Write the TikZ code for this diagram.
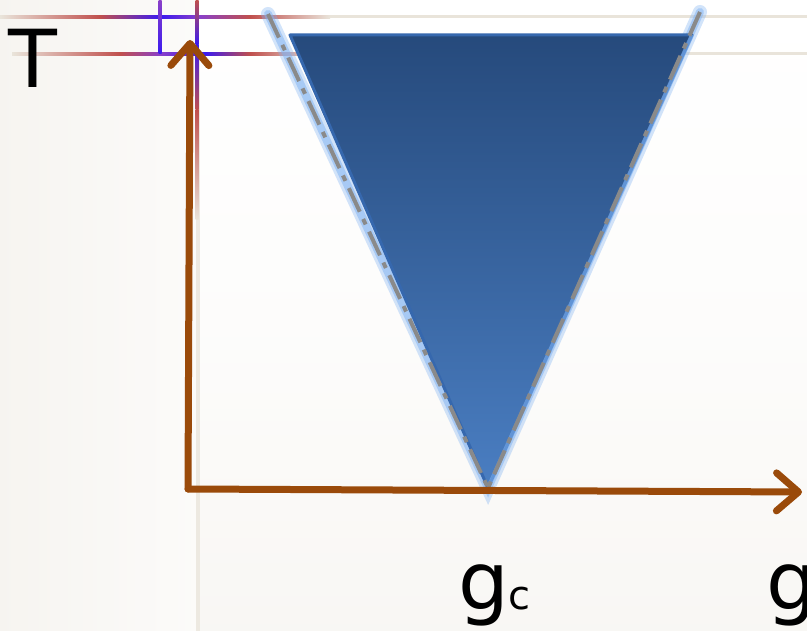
\documentclass[tikz,border=0pt]{standalone}
\usepackage{fontspec}
\setmainfont{DejaVu Sans}
\usetikzlibrary{arrows.meta}
\definecolor{axisbrown}{HTML}{9A4A0A}
\definecolor{beigeln}{HTML}{E9E4DA}
\definecolor{redln}{HTML}{C0504D}
\definecolor{blueln}{HTML}{3A1AF0}
\definecolor{purpln}{HTML}{8A40C8}
\definecolor{tritop}{HTML}{264A7C}
\definecolor{tribot}{HTML}{4A7EC2}
\definecolor{triedge}{HTML}{3668AE}
\definecolor{glow}{HTML}{7FB2F2}
\definecolor{dashgray}{HTML}{8A8A8A}
\tikzset{
  axis/.style={draw=axisbrown, line width=7pt, line cap=round, line join=round,
    -{Straight Barb[length=22pt,width=38pt,round]}},
  deco/.style={draw=none},
  glowline/.style={draw=glow, line width=14pt, opacity=0.35, line cap=round},
  glowline2/.style={draw=glow, line width=8pt, opacity=0.5, line cap=round},
  dashline/.style={draw=dashgray, line width=4pt, dash pattern=on 26pt off 8pt on 6pt off 8pt},
  lbl/.style={inner sep=0pt, font=\fontsize{80}{80}\selectfont, text=black}
}
\begin{document}
\begin{tikzpicture}[x=1pt,y=-1pt]
\useasboundingbox (0,0) rectangle (807,631);
% backgrounds
\shade[top color=white, bottom color=white!70!beigeln, middle color=white!90!beigeln] (200,0) rectangle (807,631);
\shade[left color=white!60!beigeln, right color=white!85!beigeln] (0,0) rectangle (198,631);
\fill[beigeln!80!white] (196,60) rectangle (200,631);
% decorative horizontal line at y=17
\fill[beigeln] (0,15.5) rectangle (807,18.5);
\shade[left color=beigeln, right color=redln] (0,15.5) rectangle (100,18.5);
\shade[left color=redln, right color=blueln] (100,15.5) rectangle (160,18.5);
\shade[left color=blueln, right color=purpln] (160,15.5) rectangle (200,18.5);
\shade[left color=purpln, right color=redln] (200,15.5) rectangle (250,18.5);
\shade[left color=redln, right color=beigeln] (250,15.5) rectangle (330,18.5);
% decorative horizontal line at y=54
\fill[beigeln] (12,52.5) rectangle (807,55.5);
\shade[left color=beigeln, right color=redln] (12,52.5) rectangle (120,55.5);
\shade[left color=redln, right color=purpln] (120,52.5) rectangle (160,55.5);
\shade[left color=purpln, right color=blueln] (160,52.5) rectangle (205,55.5);
\shade[left color=blueln, right color=redln] (205,52.5) rectangle (250,55.5);
\shade[left color=redln, right color=beigeln] (250,52.5) rectangle (320,55.5);
% vertical decorative lines
\shade[top color=purpln, bottom color=blueln] (158.5,0) rectangle (161.5,54);
\shade[top color=redln, bottom color=blueln] (195.5,0) rectangle (198.5,45);
\shade[top color=blueln, bottom color=redln] (195.5,45) rectangle (198.5,110);
\shade[top color=redln, bottom color=beigeln] (195.5,110) rectangle (198.5,220);
% triangle
\coordinate (tl) at (290,35);
\coordinate (tr) at (692,35);
\coordinate (tb) at (488,488);
\coordinate (dl) at (268,14);
\coordinate (dr) at (700,12);
\draw[glowline] (dl) -- (tb) -- (dr);
\draw[glowline2] (dl) -- (tb) -- (dr);
\shade[top color=tritop, bottom color=tribot, draw=triedge, line width=3pt, line join=round] (tl) -- (tr) -- (tb) -- cycle;
\draw[draw=glow, line width=4pt, opacity=0.6] (tr) -- (tb);
\draw[dashline] (dl) -- (tb);
\draw[dashline] (dr) -- (tb);
% axes
\coordinate (origin) at (188,489);
\coordinate (ytip) at (190,40);
\coordinate (xtip) at (802,492);
\draw[axis] (origin) -- (ytip);
\draw[axis] (origin) -- (xtip);
% labels
\node[lbl, anchor=base west] (tlabel) at (8,88) {T};
\node[lbl, anchor=base west] (gclabel) at (458,609) {g{\fontsize{40}{40}\selectfont c}};
\node[lbl, anchor=base west] (glabel) at (766,609) {g};
\end{tikzpicture}
\end{document}
